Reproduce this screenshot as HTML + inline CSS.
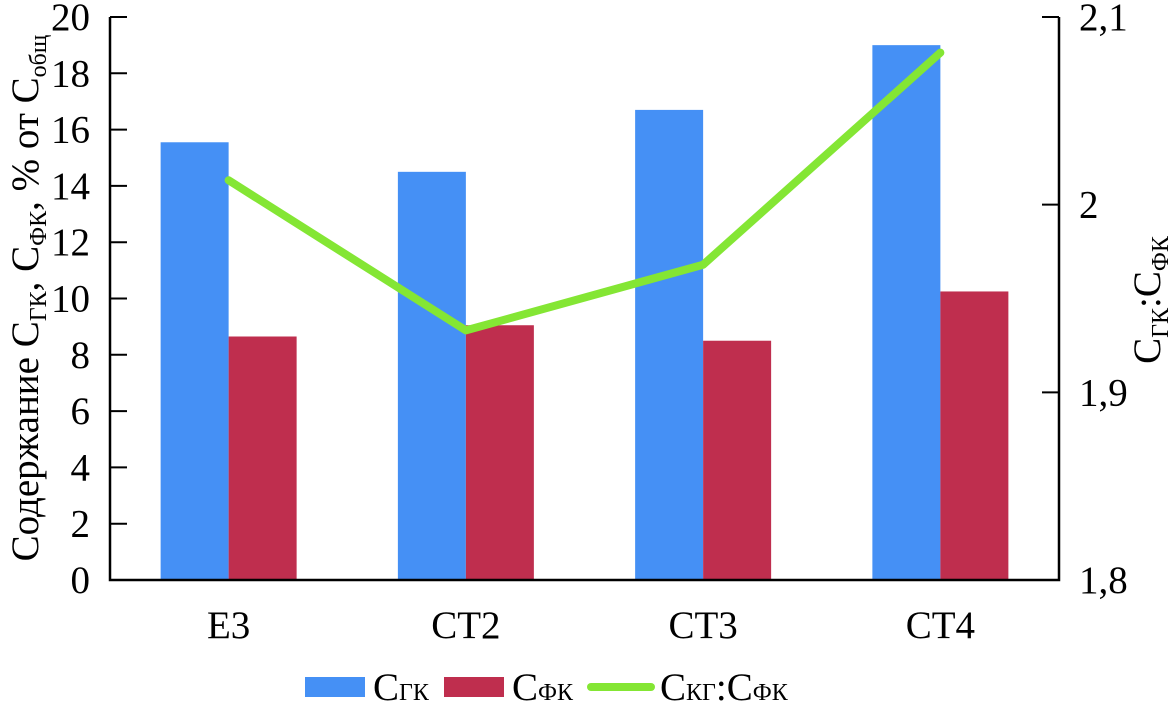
<!DOCTYPE html>
<html><head><meta charset="utf-8"><style>
body{margin:0;background:#fff}
svg text{font-family:"Liberation Serif","Times New Roman","DejaVu Serif","Noto Serif CJK SC",serif !important}
</style></head><body>
<svg width="1175" height="708" viewBox="0 0 1175 708" id="c">
<g id="bars"></g>
<g id="axes"></g>
<text transform="translate(38,298) rotate(-90)" text-anchor="middle" font-size="39">Содержание C<tspan font-size="24" dy="8">ГК</tspan><tspan dy="-8">, C</tspan><tspan font-size="24" dy="8">ФК</tspan><tspan dy="-8">, % от C</tspan><tspan font-size="24" dy="8">общ</tspan></text>
<text transform="translate(1160,300) rotate(-90)" text-anchor="middle" font-size="39">C<tspan font-size="24" dy="8">ГК</tspan><tspan dy="-8">:C</tspan><tspan font-size="24" dy="8">ФК</tspan></text>
<g>
<rect x="305" y="677" width="60" height="20" fill="#4590f5"/>
<text x="373" y="700" font-size="39">C<tspan font-size="24">ГК</tspan></text>
<rect x="444" y="677" width="60" height="20" fill="#bf2e4e"/>
<text x="512" y="700" font-size="39">C<tspan font-size="24">ФК</tspan></text>
<line x1="591" y1="687" x2="651" y2="687" stroke="#84e634" stroke-width="8" stroke-linecap="round"/>
<text x="660" y="700" font-size="39">C<tspan font-size="24">КГ</tspan>:C<tspan font-size="24">ФК</tspan></text>
</g>
</svg>
<script>
const categories=["Е3","СТ2","СТ3","СТ4"];
const cgk=[15.55,14.5,16.7,19.0];
const cfk=[8.65,9.05,8.5,10.25];
const ratio=[2.013,1.933,1.968,2.081];
const yTicks=[0,2,4,6,8,10,12,14,16,18,20];
const y2Ticks=["1,8","1,9","2","2,1"];
const y2Vals=[1.8,1.9,2.0,2.1];
const NS="http://www.w3.org/2000/svg";
const L=110,R=1059,T=17,B=580;
const y=v=>B-(v/20)*(B-T);
const y2=v=>B-((v-1.8)/0.3)*(B-T);
const gw=(R-L)/categories.length;
const cx=i=>L+gw*(i+0.5);
const bw=68;
function mk(t,a,p){const e=document.createElementNS(NS,t);for(const k in a)e.setAttribute(k,a[k]);(p||document.getElementById('c')).appendChild(e);return e;}
const bars=document.getElementById('bars'),axes=document.getElementById('axes');
categories.forEach((c,i)=>{
  let b1=mk('rect',{x:cx(i)-bw,y:y(cgk[i]),width:bw,height:B-y(cgk[i]),fill:'#4590f5'},bars);
  
  
  let b2=mk('rect',{x:cx(i),y:y(cfk[i]),width:bw,height:B-y(cfk[i]),fill:'#bf2e4e'},bars);
  
  
  let t=mk('text',{x:cx(i),y:638,'text-anchor':'middle','font-size':39},axes);
  t.textContent=c;
  
  
});
let al=mk('path',{d:`M${L},${T}V${B}H${R}V${T}`,fill:'none',stroke:'#000','stroke-width':2.5},axes);


yTicks.forEach(v=>{
  let l=mk('line',{x1:L,x2:L+17,y1:y(v),y2:y(v),stroke:'#000','stroke-width':2},axes);
  
  
  let t=mk('text',{x:L-20,y:y(v)+13,'text-anchor':'end','font-size':39},axes);
  t.textContent=v;
  
  
});
y2Vals.forEach((v,i)=>{
  let l=mk('line',{x1:R-17,x2:R,y1:y2(v),y2:y2(v),stroke:'#000','stroke-width':2},axes);
  
  
  let t=mk('text',{x:R+20,y:y2(v)+13,'font-size':39},axes);
  t.textContent=y2Ticks[i];
  
  
});
let pl=mk('polyline',{points:ratio.map((v,i)=>cx(i)+','+y2(v)).join(' '),fill:'none',stroke:'#84e634','stroke-width':8,'stroke-linecap':'round','stroke-linejoin':'round'});


</script>
</body></html>
